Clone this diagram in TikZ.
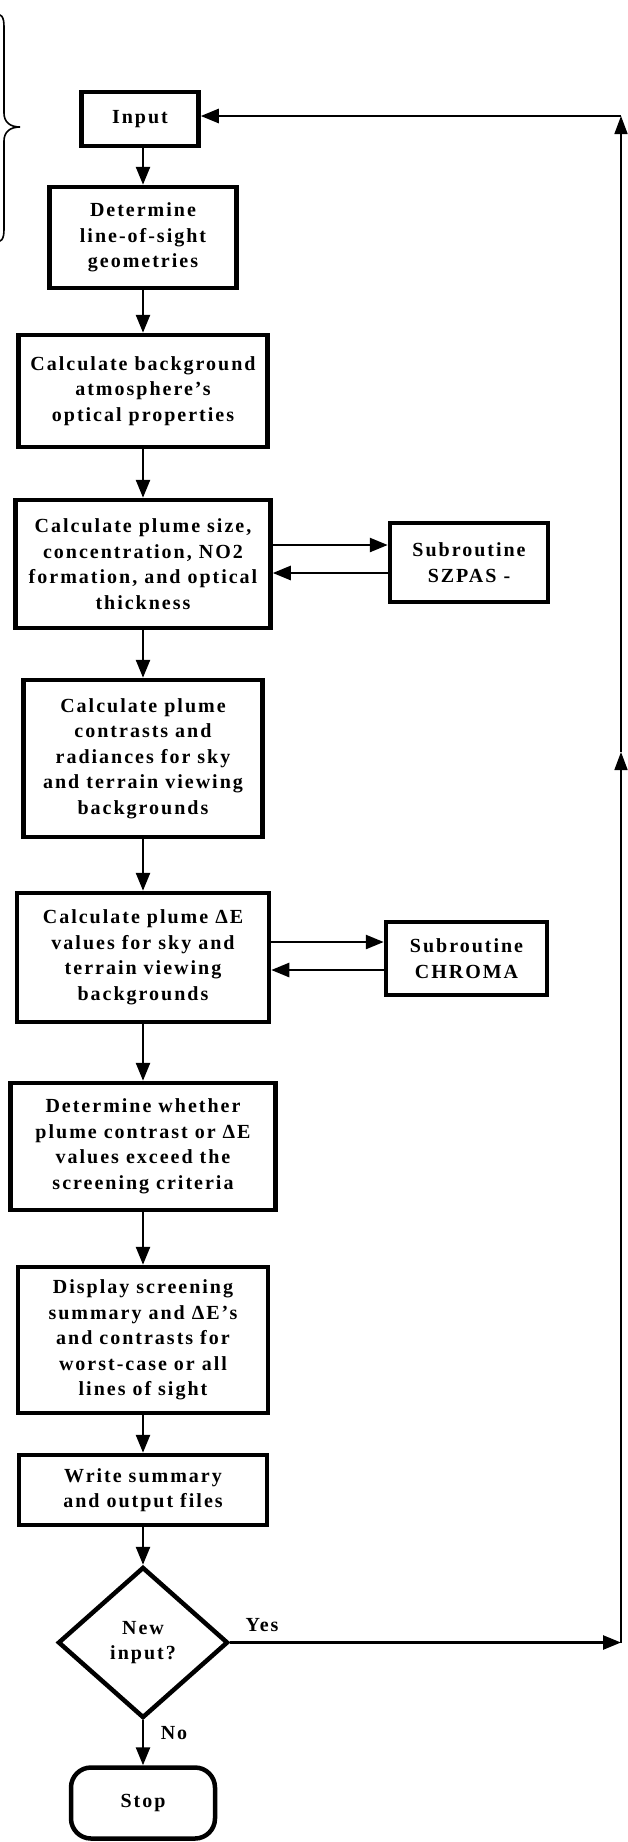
\documentclass[tikz,border=0pt]{standalone}
\usepackage{fontspec}
\setmainfont{Liberation Serif}[LetterSpace=10]
\usetikzlibrary{arrows.meta,shapes.geometric}
\newcommand\flowfont{\fontsize{20}{25.5}\selectfont\bfseries}
\tikzset{
  box/.style={draw, rectangle, line width=4.5pt, align=center, inner sep=0pt, font=\flowfont},
  arr/.style={line width=2.6pt, -{Triangle[length=18pt,width=14pt]}},
  thinarr/.style={line width=1.6pt, -{Triangle[length=18pt,width=13pt]}},
  lbl/.style={font=\flowfont, inner sep=0pt}
}
\begin{document}
\begin{tikzpicture}[x=1pt,y=-1pt]
\useasboundingbox (0,0) rectangle (627,1842);
\fill[white] (0,0) rectangle (627,1842);
% brace
\draw[line width=1.6pt] (-8,13) .. controls (2,13) and (4,17) .. (4,27) -- (4,113)
  .. controls (4,122) and (10,127) .. (20,127)
  .. controls (10,127) and (4,132) .. (4,141) -- (4,229)
  .. controls (4,239) and (2,243) .. (-8,243);
% nodes
\node[box, minimum width=117pt, minimum height=54pt] (input) at (140,119) {Input};
\node[box, minimum width=187pt, minimum height=101pt] (det) at (143,237.5) {Determine\\line-of-sight\\geometries};
\node[box, minimum width=249pt, minimum height=112pt] (bg) at (143,391) {Calculate background\\atmosphere's\\optical properties};
\node[box, minimum width=255pt, minimum height=128pt] (size) at (143,564) {Calculate plume size,\\concentration, NO2\\formation, and optical\\thickness};
\node[box, minimum width=158pt, minimum height=79pt] (szpas) at (469,562.5) {Subroutine\\SZPAS -};
\node[box, minimum width=239pt, minimum height=157pt] (contr) at (143,758.5) {Calculate plume\\contrasts and\\radiances for sky\\and terrain viewing\\backgrounds};
\node[box, minimum width=252pt, minimum height=129pt] (de) at (143,957.5) {Calculate plume ΔE\\values for sky and\\terrain viewing\\backgrounds};
\node[box, minimum width=161pt, minimum height=73pt] (chroma) at (466.5,958.5) {Subroutine\\CHROMA};
\node[box, minimum width=265pt, minimum height=127pt] (crit) at (143,1146.5) {Determine whether\\plume contrast or ΔE\\values exceed the\\screening criteria};
\node[box, minimum width=250pt, minimum height=146pt] (disp) at (143,1340) {Display screening\\summary and ΔE's\\and contrasts for\\worst-case or all\\lines of sight};
\node[box, minimum width=248pt, minimum height=70pt] (write) at (143,1490) {Write summary\\and output files};
\node[draw, diamond, line width=4.5pt, minimum width=170pt, minimum height=151pt, inner sep=0pt, align=center, font=\flowfont] (new) at (143,1642.5) {New\\input?};
\node[draw, rectangle, rounded corners=20pt, line width=4.5pt, minimum width=144pt, minimum height=71pt, font=\flowfont] (stop) at (143,1803) {Stop};
\node[lbl] (yes) at (262,1625) {Yes};
\node[lbl] (no) at (174,1733) {No};
\coordinate (ry) at (621,1642.5);
\coordinate (rm) at (621,752);
\coordinate (rt) at (621,116);
% main flow
\draw[arr] (input.south -| det.north) -- (det);
\draw[arr] (det) -- (bg);
\draw[arr] (bg) -- (size);
\draw[arr] (size) -- (contr);
\draw[arr] (contr) -- (de);
\draw[arr] (de) -- (crit);
\draw[arr] (crit) -- (disp);
\draw[arr] (disp) -- (write);
\draw[arr] (write) -- (new);
\draw[arr] (new) -- (stop);
% subroutines
\draw[arr] ([yshift=19pt]size.east) -- ([yshift=19pt]size.east -| szpas.west);
\draw[arr] ([yshift=-9pt]size.east -| szpas.west) -- ([yshift=-9pt]size.east);
\draw[arr] ([yshift=15.5pt]de.east) -- ([yshift=15.5pt]de.east -| chroma.west);
\draw[arr] ([yshift=-12.5pt]de.east -| chroma.west) -- ([yshift=-12.5pt]de.east);
% loop back
\draw[arr] (new) -- (ry);
\draw[thinarr] (ry) -- (rm);
\draw[thinarr] (rm) -- (rt);
\draw[arr] (rt) -- (rt -| input.east);
\end{tikzpicture}
\end{document}
